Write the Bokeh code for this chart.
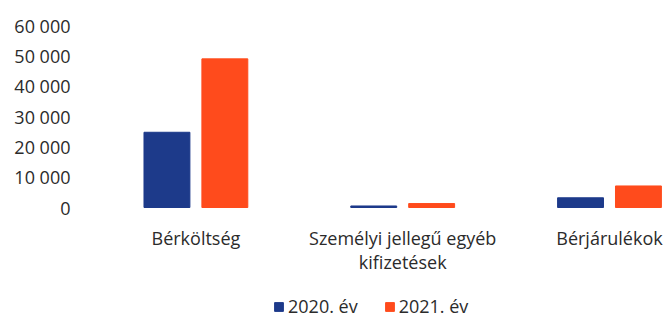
from bokeh.plotting import figure
from bokeh.models import Range1d, Legend, LegendItem, ColumnDataSource, FixedTicker
from bokeh.transform import dodge
from bokeh.core.properties import value
from bokeh.embed import file_html
from bokeh.resources import INLINE

categories = ["Bérköltség", "Személyi jellegű egyéb\nkifizetések", "Bérjárulékok"]
y2020 = [24800, 500, 3200]
y2021 = [49000, 1300, 7100]
series_names = ["2020. év", "2021. év"]
y_ticks = [0, 10000, 20000, 30000, 40000, 50000, 60000]
y_tick_labels = ["0", "10 000", "20 000", "30 000", "40 000", "50 000", "60 000"]

FONT = "Open Sans"
BLUE = "#1d3a8a"
ORANGE = "#ff4b1c"
TXT = "#2b2b2b"

xs = list(range(len(categories)))
src = ColumnDataSource(dict(x=xs, a=y2020, b=y2021, base=[0] * len(xs), label=categories))

p = figure(width=664, height=318, output_backend="svg", toolbar_location=None,
           x_axis_location=None,
           x_range=Range1d(-0.5, 2.266), y_range=Range1d(-36593, 60000),
           min_border_left=92, min_border_top=25, min_border_right=0, min_border_bottom=0)
p.outline_line_color = None
p.grid.visible = False

r1 = p.vbar(x=dodge("x", -0.14), top="a", width=0.222, source=src, color=BLUE)
r2 = p.vbar(x=dodge("x", 0.14), top="b", width=0.222, source=src, color=ORANGE)

# category labels under the bars
p.text(x="x", y="base", text="label", source=src, text_align="center", text_baseline="top",
       y_offset=18, text_font=value(FONT), text_font_size="18px", text_color=TXT,
       text_line_height=1.0)

p.yaxis.ticker = FixedTicker(ticks=y_ticks)
p.yaxis.major_label_overrides = {t: l for t, l in zip(y_ticks, y_tick_labels)}
ax = p.yaxis[0]
ax.axis_line_color = None
ax.major_tick_line_color = None
ax.minor_tick_line_color = None
ax.major_tick_out = 0
ax.major_tick_in = 0
ax.major_label_text_font = FONT
ax.major_label_text_font_size = "18px"
ax.major_label_text_color = TXT
ax.major_label_standoff = 22

legend = Legend(items=[LegendItem(label=series_names[0], renderers=[r1]),
                       LegendItem(label=series_names[1], renderers=[r2])],
                orientation="horizontal", location=(181, 0),
                label_text_font=FONT, label_text_font_size="18px", label_text_color=TXT,
                glyph_width=11, glyph_height=11, spacing=26, label_standoff=4,
                border_line_color=None, background_fill_alpha=0, padding=0, margin=0)
p.add_layout(legend, "center")

open("out.html", "w").write(file_html(p, INLINE))
